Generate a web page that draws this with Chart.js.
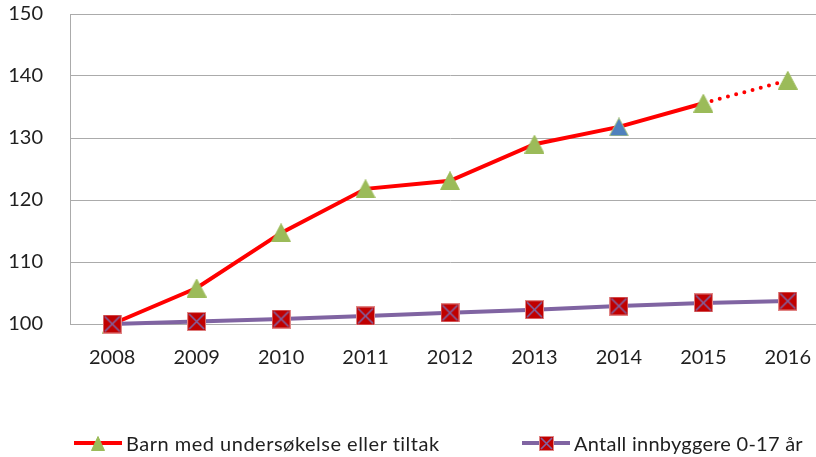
<!DOCTYPE html>
<html>
<head>
<meta charset="utf-8">
<script src="https://cdn.jsdelivr.net/npm/chart.js@4.4.0/dist/chart.umd.min.js"></script>
<style>
html, body { margin: 0; padding: 0; background: #fff; overflow: hidden; }
#wrap { position: relative; width: 816px; height: 457px; overflow: hidden; }
#chart { position: absolute; left: 0; top: 0; }
.legend-item { position: absolute; top: 432px; height: 22px; display: flex; align-items: center;
  font-family: Lato, sans-serif; font-size: 20px; letter-spacing: 0.5px; color: #1f1f1f; white-space: nowrap; }
.legend-item canvas { margin-right: 4px; }
#leg1 { letter-spacing: 0.25px; }
</style>
</head>
<body>
<div id="wrap">
  <canvas id="chart" width="838" height="457"></canvas>
  <div class="legend-item" id="leg0" style="left:74px"></div>
  <div class="legend-item" id="leg1" style="left:522px"></div>
</div>
<script>
// data (index, 2008 = 100)
const years = ['2008', '2009', '2010', '2011', '2012', '2013', '2014', '2015', '2016'];
const barnValues = [100, 105.8, 114.7, 121.8, 123.1, 129.0, 131.8, 135.6, 139.3];
const innbyggereValues = [100, 100.4, 100.8, 101.3, 101.8, 102.3, 102.9, 103.4, 103.7];
const seriesNames = ['Barn med undersøkelse eller tiltak', 'Antall innbyggere 0-17 år'];
const yMin = 100, yMax = 150, yStep = 10;

const RED = '#FF0000', PURPLE = '#8064A2', GREEN = '#9BBB59', BLUE = '#4F81BD', DARKRED = '#C00000';
const projectedFrom = 7;   // last segment is dotted
const highlightIndex = 6;  // blue marker

function squareMarker(size) {
    const c = document.createElement('canvas');
    c.width = size; c.height = size;
    const g = c.getContext('2d');
    g.fillStyle = DARKRED;
    g.fillRect(0, 0, size, size);
    g.strokeStyle = '#E08585';
    g.lineWidth = 1;
    g.strokeRect(0.5, 0.5, size - 1, size - 1);
    g.strokeStyle = PURPLE;
    g.lineWidth = 1.6;
    g.beginPath();
    g.moveTo(2, 2); g.lineTo(size - 2, size - 2);
    g.moveTo(size - 2, 2); g.lineTo(2, size - 2);
    g.stroke();
    return c;
}

function triangleMarker(w, h, fill, edge) {
    const c = document.createElement('canvas');
    c.width = w; c.height = h;
    const g = c.getContext('2d');
    g.fillStyle = fill;
    g.strokeStyle = edge;
    g.lineWidth = 1;
    g.beginPath();
    g.moveTo(w / 2, 0.5); g.lineTo(w - 0.5, h - 0.5); g.lineTo(0.5, h - 0.5); g.closePath();
    g.fill();
    g.stroke();
    return c;
}

function legendSwatch(color, marker) {
    const c = document.createElement('canvas');
    c.width = 48; c.height = 22;
    const g = c.getContext('2d');
    g.strokeStyle = color;
    g.lineWidth = 4;
    g.beginPath(); g.moveTo(0, 11); g.lineTo(48, 11); g.stroke();
    g.drawImage(marker, Math.round(24 - marker.width / 2), Math.round(11 - marker.height / 2));
    return c;
}

const sq = squareMarker(19);
const triGreen = triangleMarker(20, 19, GREEN, GREEN);
const triBlue = triangleMarker(20, 19, BLUE, '#A9C47F');

new Chart('chart', {
    type: 'line',
    data: {
        labels: years,
        datasets: [
            {
                label: seriesNames[1],
                data: innbyggereValues,
                borderColor: PURPLE,
                borderWidth: 4,
                pointStyle: sq,
                clip: false
            },
            {
                label: seriesNames[0],
                data: barnValues,
                borderColor: RED,
                borderWidth: 4,
                borderCapStyle: 'round',
                pointStyle: years.map((y, i) => i === highlightIndex ? triBlue : triGreen),
                segment: {
                    borderDash: ctx => ctx.p0DataIndex >= projectedFrom ? [0, 8.5] : undefined
                },
                clip: false
            }
        ]
    },
    options: {
        responsive: false,
        animation: false,
        layout: { padding: { top: 14, right: 0, left: 0, bottom: 0 } },
        plugins: {
            legend: { display: false },
            tooltip: { enabled: false }
        },
        scales: {
            x: {
                offset: true,
                grid: { display: false, drawTicks: false },
                border: { display: true, color: '#ABABAB' },
                ticks: { padding: 22, color: '#1f1f1f', font: { family: 'Lato', size: 20 } },
                afterFit: s => { s.height = 133; }
            },
            y: {
                min: yMin,
                max: yMax,
                grid: { color: '#ABABAB', drawTicks: false },
                border: { display: true, color: '#ABABAB' },
                ticks: { stepSize: yStep, padding: 27, color: '#1f1f1f', font: { family: 'Lato', size: 20 } },
                // tick padding would otherwise push the plot top down
                afterFit: s => { s.width = 70; s.paddingTop = 10; s.paddingBottom = 10; }
            }
        }
    }
});

// legend
document.getElementById('leg0').append(legendSwatch(RED, triangleMarker(14, 15, GREEN, GREEN)), seriesNames[0]);
document.getElementById('leg1').append(legendSwatch(PURPLE, squareMarker(15)), seriesNames[1]);
</script>
</body>
</html>
